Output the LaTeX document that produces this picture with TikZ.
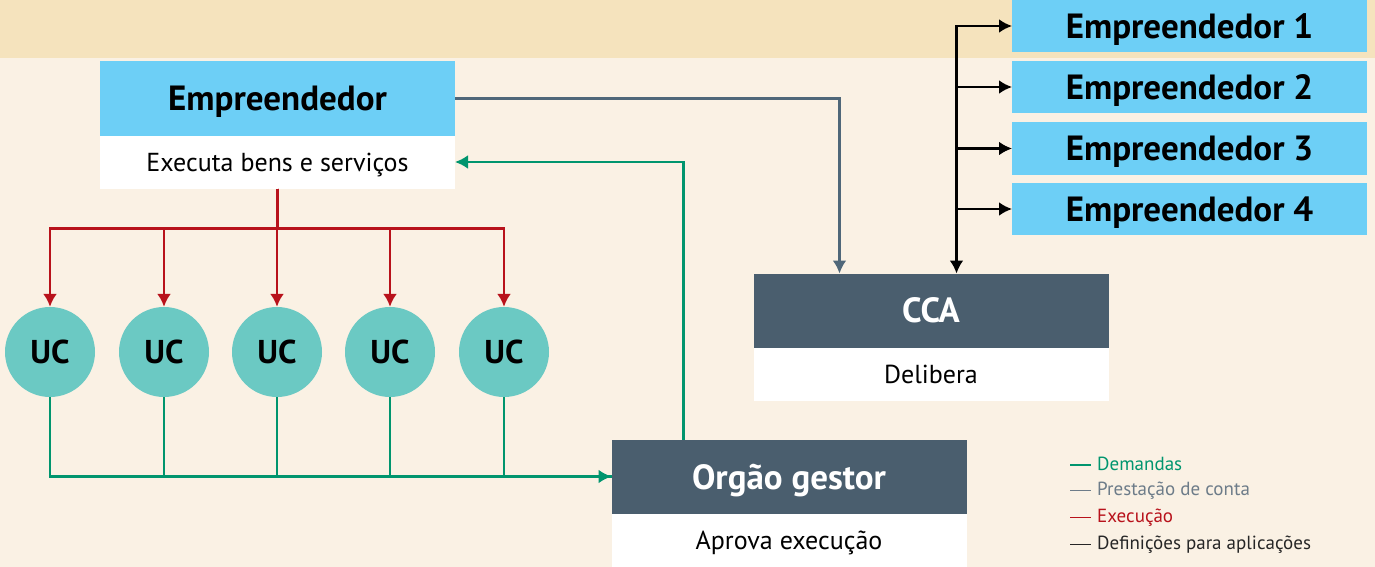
\documentclass[tikz,border=0pt]{standalone}
\usepackage{fontspec}
\setmainfont{PT Sans}
\usetikzlibrary{arrows.meta}
\definecolor{bandtan}{HTML}{F5E3BD}
\definecolor{paper}{HTML}{FAF1E4}
\definecolor{skyblue}{HTML}{6DCFF6}
\definecolor{slate}{HTML}{4A5E6E}
\definecolor{ucteal}{HTML}{6BC9C3}
\definecolor{demgreen}{HTML}{00956E}
\definecolor{execred}{HTML}{B8121B}
\definecolor{prestgray}{HTML}{4F6779}
\definecolor{legendgray}{HTML}{6D7C89}
\tikzset{
    box/.style={minimum width=355pt, inner sep=0pt, outer sep=0pt, text depth=0pt},
    head/.style={box, minimum height=74pt, font=\fontsize{35}{40}\selectfont\bfseries},
    body/.style={box, fill=white, minimum height=53pt, font=\fontsize{26}{30}\selectfont},
    uc/.style={circle, fill=ucteal, minimum size=90pt, inner sep=0pt, text depth=0pt, font=\fontsize{33}{38}\selectfont\bfseries},
    dem/.style={demgreen, line width=2.8pt},
    exec/.style={execred, line width=2.8pt},
    prest/.style={prestgray, line width=2.8pt},
    defin/.style={black, line width=2.8pt}
}
\begin{document}
\begin{tikzpicture}[x=1pt, y=-1pt, >={Latex[length=13pt,width=14pt]}]
                \useasboundingbox (0,0) rectangle (1375,567);
                \fill[paper] (0,0) rectangle (1375,567);
                \fill[bandtan] (0,0) rectangle (1375,58);
                % boxes
                \node[head, fill=skyblue] (emp) at (277.5,98.5) {Empreendedor};
                \node[body, anchor=north] (empbody) at (emp.south) {Executa bens e serviços};
                \node[head, fill=slate, text=white] (cca) at (931,310.5) {CCA};
                \node[body, anchor=north] (ccabody) at (cca.south) {Delibera};
                \node[head, fill=slate, text=white] (gestor) at (789,476.5) {Orgão gestor};
                \node[body, anchor=north] (gestorbody) at (gestor.south) {Aprova execução};
                \foreach \i/\y in {1/26,2/87,3/148.5,4/209}
                {
                    \node[box, fill=skyblue, minimum height=52pt, font=\fontsize{35}{40}\selectfont\bfseries] (e\i) at (1189.5,\y) {Empreendedor \i};
                }
                \foreach \i/\x in {1/50,2/164,3/277,4/390,5/504}
                {
                    \node[uc] (uc\i) at (\x,352) {UC};
                    \draw[exec,->] (empbody.south) -- ++(0,40) -| (uc\i.north);
                    \draw[dem] (uc\i.south) |- (gestor.west);
                }
                \draw[dem,->] (uc1.south) |- (gestor.west);
                \draw[dem,->] ([xshift=72pt]gestor.north west) |- (empbody.east);
                \draw[prest,->] (emp.east) -| ([xshift=86pt]cca.north west);
                % definicoes
                \coordinate (bus) at ([xshift=203pt]cca.north west);
                \draw[defin,<->] (e1.west) -- (bus |- e1.west) -- (bus);
                \foreach \i in {2,3,4}
                    \draw[defin,->] (bus |- e\i.west) -- (e\i.west);
                % legenda
                \foreach \n/\C/\T in {0/demgreen/Demandas,1/legendgray/Prestação de conta,2/execred/Execução,3/black!85/Definições para aplicações}
                {
                    \node[anchor=west, text=\C, inner sep=0pt, font=\fontsize{19}{23}\selectfont] (leg\n) at (1070,{464+27*\n}) {\rule[5pt]{21pt}{1.3pt}\hspace{6pt}\T};
                }
\end{tikzpicture}
\end{document}
